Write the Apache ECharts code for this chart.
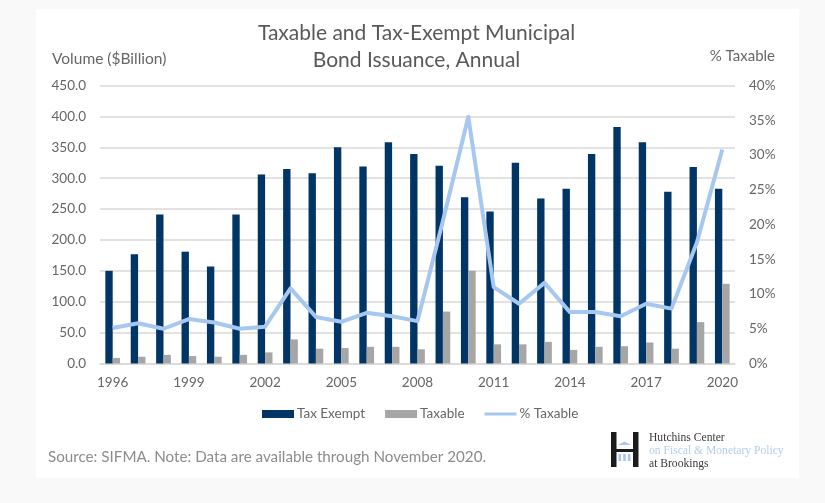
<!DOCTYPE html>
<html>
<head>
<meta charset="utf-8">
<style>
  html, body { margin: 0; padding: 0; background: #f9f9f9; }
  #chart { width: 825px; height: 503px; }
</style>
<script src="https://cdn.jsdelivr.net/npm/echarts@6/dist/echarts.min.js"></script>
</head>
<body>
<div id="chart"></div>
<script>
// Municipal bond issuance by year, in $ billion, with taxable share in percent.
const years = ['1996','1997','1998','1999','2000','2001','2002','2003','2004','2005','2006','2007','2008',
  '2009','2010','2011','2012','2013','2014','2015','2016','2017','2018','2019','2020'];
const taxExempt = [150,177,241,181,157,241,306,315,308,350,319,358,339,320,269,246,325,267,283,339,383,358,278,318,283];
const taxable = [9,11,14,12,11,14,18,39,24,25,27,27,23,84,150,31,31,35,22,27,28,34,24,67,129];
const pctTaxable = [5.1,5.8,5.0,6.4,5.9,5.0,5.3,10.8,6.7,6.0,7.3,6.8,6.1,20.5,35.5,11.0,8.6,11.6,7.4,7.4,6.8,8.6,7.9,17.4,30.8];

const FONT = 'Lato, "Open Sans", sans-serif';
const INK = '#666666';
const NAVY = '#003566';
const GREY = '#a6a6a6';
const SKY = '#a6c8f0';

const chart = echarts.init(document.getElementById('chart'), null, { renderer: 'canvas' });

chart.setOption({
  backgroundColor: '#f9f9f9',
  animation: false,
  textStyle: { fontFamily: FONT },
  title: {
    text: 'Taxable and Tax-Exempt Municipal\nBond Issuance, Annual',
    left: 411.5, top: 14, textAlign: 'center',
    textStyle: { fontFamily: FONT, fontSize: 21, fontWeight: 'normal', color: '#595959', lineHeight: 27.5 }
  },
  legend: {
    left: 257, top: 402, itemWidth: 32, itemHeight: 8, itemGap: 20,
    textStyle: { fontFamily: FONT, fontSize: 13.5, color: INK, padding: [0, 0, 0, -2] },
    data: [
      { name: 'Tax Exempt', icon: 'rect' },
      { name: 'Taxable', icon: 'rect' },
      // thin bar centred in the swatch box; the zero-length ends keep its full height
      { name: '% Taxable', icon: 'path://M0,0L0.01,0ZM0,2.4L32,2.4L32,5.6L0,5.6ZM0,8L0.01,8Z' }
    ]
  },
  grid: { left: 100, right: 90, top: 85.5, bottom: 139.5 },
  xAxis: {
    type: 'category', data: years,
    axisTick: { show: false },
    axisLine: { lineStyle: { color: '#d9d9d9', width: 1.5 } },
    axisLabel: { interval: 2, margin: 12, fontSize: 13.5, color: INK, fontFamily: FONT }
  },
  yAxis: [
    {
      type: 'value', min: 0, max: 450, interval: 50,
      name: 'Volume ($Billion)', nameGap: 19,
      nameTextStyle: { fontFamily: FONT, fontSize: 15.5, color: INK, align: 'left', padding: [0, 0, 0, -48] },
      axisLine: { show: false }, axisTick: { show: false },
      axisLabel: { margin: 14, fontSize: 13.5, color: INK, fontFamily: FONT, formatter: v => v.toFixed(1) },
      splitLine: { lineStyle: { color: '#d9d9d9', width: 1.5 } }
    },
    {
      type: 'value', min: 0, max: 40, interval: 5, position: 'right',
      name: '% Taxable', nameGap: 22,
      nameTextStyle: { fontFamily: FONT, fontSize: 15, color: INK, align: 'right', padding: [0, -40, 0, 0] },
      axisLine: { show: false }, axisTick: { show: false },
      axisLabel: { margin: 14, fontSize: 13.5, color: INK, fontFamily: FONT, formatter: '{value}%' },
      splitLine: { show: false }
    }
  ],
  series: [
    { name: 'Tax Exempt', type: 'bar', data: taxExempt, barWidth: '29%', barGap: '0%', itemStyle: { color: NAVY } },
    { name: 'Taxable', type: 'bar', data: taxable, barWidth: '29%', itemStyle: { color: GREY } },
    {
      name: '% Taxable', type: 'line', yAxisIndex: 1, data: pctTaxable,
      showSymbol: false, symbol: 'none', z: 5,
      lineStyle: { color: SKY, width: 4, join: 'round' }, itemStyle: { color: SKY }
    }
  ],
  graphic: [
    // white card behind the chart
    { type: 'rect', z: -10, silent: true, shape: { x: 36, y: 9, width: 763, height: 469 }, style: { fill: '#ffffff' } },
    { type: 'text', left: 48, top: 450, style: { text: 'Source: SIFMA. Note: Data are available through November 2020.', font: '15.2px ' + FONT, fill: '#8c8c8c' } },
    // Hutchins Center mark
    { type: 'rect', shape: { x: 611, y: 432, width: 5.5, height: 35 }, style: { fill: '#1c1c1c' } },
    { type: 'rect', shape: { x: 633, y: 432, width: 5.5, height: 35 }, style: { fill: '#1c1c1c' } },
    { type: 'rect', shape: { x: 616, y: 449, width: 17, height: 3 }, style: { fill: '#1c1c1c' } },
    { type: 'polygon', shape: { points: [[618, 445], [624.5, 441.5], [631, 445]] }, style: { fill: SKY } },
    { type: 'rect', shape: { x: 618.5, y: 454, width: 2.6, height: 7 }, style: { fill: SKY } },
    { type: 'rect', shape: { x: 623.2, y: 454, width: 2.6, height: 7 }, style: { fill: SKY } },
    { type: 'rect', shape: { x: 627.9, y: 454, width: 2.6, height: 7 }, style: { fill: SKY } },
    { type: 'text', left: 649, top: 432, style: { text: 'Hutchins Center', font: '11.6px "Liberation Serif", serif', fill: '#3a3a3a' } },
    { type: 'text', left: 649, top: 445, style: { text: 'on Fiscal & Monetary Policy', font: '11.6px "Liberation Serif", serif', fill: '#b5cdea' } },
    { type: 'text', left: 649, top: 458, style: { text: 'at Brookings', font: '11.6px "Liberation Serif", serif', fill: '#3a3a3a' } }
  ]
});
</script>
</body>
</html>
